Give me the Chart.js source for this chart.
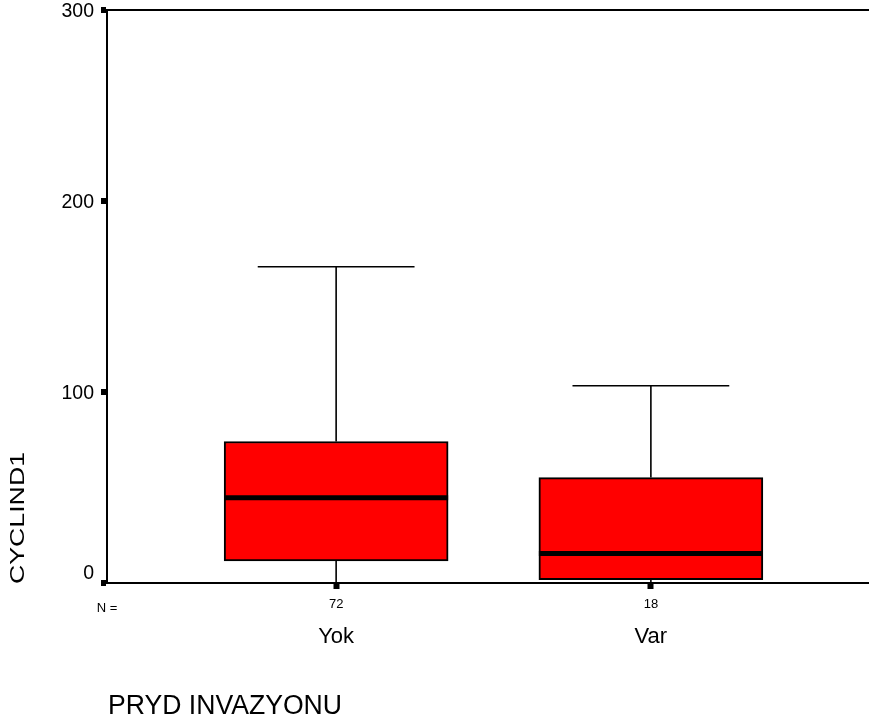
<!DOCTYPE html>
<html>
<head>
<meta charset="utf-8">
<script src="https://cdn.jsdelivr.net/npm/chart.js@4/dist/chart.umd.min.js"></script>
<style>
  html, body { margin: 0; padding: 0; background: #fff; }
  #wrap { width: 869px; height: 724px; position: relative; }
</style>
</head>
<body>
<div id="wrap"><canvas id="c"></canvas></div>
<script>
// Groups and group sizes
const categories = ['Yok', 'Var'];
const counts = [72, 18];

// Box-plot summary per group
const whiskerLow  = [0, 0];
const quartile1   = [11.5, 1.7];
const medians     = [44.6, 15.5];
const quartile3   = [74.1, 55.2];
const whiskerHigh = [165.6, 103.3];

// Value axis ticks
const yTicks = [0, 100, 200, 300];

const yTitle = 'CYCLIND1';
const xTitle = 'PRYD INVAZYONU';
const nLabel = 'N =';

const FONT = "'Liberation Sans', Arial, Helvetica, sans-serif";

// Whiskers behind the boxes, medians on top, plus the text around the axes
const boxPlotPlugin = {
  id: 'boxWhiskers',
  beforeDatasetsDraw(chart) {
    const xs = chart.scales.x, ys = chart.scales.y;
    const bars = chart.getDatasetMeta(0).data;
    const ctx = chart.ctx;
    ctx.save();
    ctx.strokeStyle = '#000';
    ctx.lineWidth = 1.6;
    categories.forEach((c, i) => {
      const x = xs.getPixelForValue(i + 1);
      const half = bars[i].width * 0.35;
      const yMax = ys.getPixelForValue(whiskerHigh[i]);
      const yMin = ys.getPixelForValue(whiskerLow[i]);
      ctx.beginPath();
      ctx.moveTo(x, ys.getPixelForValue(quartile3[i]));
      ctx.lineTo(x, yMax);
      ctx.moveTo(x - half, yMax);
      ctx.lineTo(x + half, yMax);
      ctx.moveTo(x, ys.getPixelForValue(quartile1[i]));
      ctx.lineTo(x, yMin);
      ctx.moveTo(x - half, yMin);
      ctx.lineTo(x + half, yMin);
      ctx.stroke();
    });
    ctx.restore();
  },
  afterDatasetsDraw(chart) {
    const ys = chart.scales.y;
    const bars = chart.getDatasetMeta(0).data;
    const ctx = chart.ctx;
    ctx.save();
    ctx.strokeStyle = '#000';
    ctx.lineWidth = 5;
    categories.forEach((c, i) => {
      const b = bars[i];
      const y = ys.getPixelForValue(medians[i]);
      ctx.beginPath();
      ctx.moveTo(b.x - b.width / 2, y);
      ctx.lineTo(b.x + b.width / 2, y);
      ctx.stroke();
    });
    ctx.restore();
  },
  afterDraw(chart) {
    const xs = chart.scales.x, ys = chart.scales.y;
    const ctx = chart.ctx;
    const area = chart.chartArea;
    ctx.save();
    ctx.fillStyle = '#000';

    // value labels; the zero label sits a little above its tick
    ctx.font = '19.5px ' + FONT;
    ctx.textAlign = 'right';
    ctx.textBaseline = 'middle';
    yTicks.forEach(v => {
      const shift = v === yTicks[0] ? -9.5 : 2;
      ctx.fillText(String(v), area.left - 13, ys.getPixelForValue(v) + shift);
    });

    // group sizes row
    ctx.font = '13px ' + FONT;
    ctx.textAlign = 'center';
    ctx.textBaseline = 'alphabetic';
    ctx.fillText(nLabel, area.left, 612);
    categories.forEach((c, i) => {
      ctx.fillText(String(counts[i]), xs.getPixelForValue(i + 1), 608);
    });

    // group names
    ctx.font = '22px ' + FONT;
    categories.forEach((c, i) => {
      ctx.fillText(c, xs.getPixelForValue(i + 1), 643);
    });

    // horizontal axis title
    ctx.font = '27px ' + FONT;
    ctx.textAlign = 'left';
    ctx.fillText(xTitle, area.left + 1, 714, 234);

    // vertical axis title, widened along its baseline
    ctx.font = '20px ' + FONT;
    const w = ctx.measureText(yTitle).width;
    ctx.translate(24, area.bottom + 1);
    ctx.rotate(-Math.PI / 2);
    ctx.scale(132 / w, 1);
    ctx.textAlign = 'left';
    ctx.fillText(yTitle, 0, 0);
    ctx.restore();
  }
};

new Chart(document.getElementById('c'), {
  type: 'bar',
  data: {
    datasets: [{
      data: categories.map((c, i) => ({ x: i + 1, y: [quartile1[i], quartile3[i]] })),
      backgroundColor: '#ff0000',
      borderColor: '#000',
      borderWidth: 2,
      borderSkipped: false,
      barThickness: 224
    }]
  },
  options: {
    responsive: true,
    maintainAspectRatio: false,
    animation: false,
    layout: { padding: { top: 10, left: 0, right: 0, bottom: 0 } },
    plugins: { legend: { display: false }, tooltip: { enabled: false } },
    scales: {
      x: {
        type: 'linear',
        offset: false,
        min: 0.272,
        max: 2.693,
        afterBuildTicks: s => { s.ticks = categories.map((c, i) => ({ value: i + 1 })); },
        afterFit: s => { s.height = 141; s.paddingLeft = 0; s.paddingRight = 0; },
        ticks: { display: false },
        grid: {
          offset: false,
          drawOnChartArea: false,
          drawTicks: true,
          tickLength: 6,
          tickWidth: 6,
          tickColor: '#000'
        },
        border: { display: true, color: '#000', width: 2 }
      },
      y: {
        min: 0,
        max: 300,
        afterBuildTicks: s => { s.ticks = yTicks.map(v => ({ value: v })); },
        afterFit: s => { s.width = 107; s.paddingTop = 0; s.paddingBottom = 0; },
        ticks: { display: false },
        grid: {
          drawOnChartArea: true,
          color: c => (c.tick && c.tick.value === 300 ? '#000' : 'rgba(0,0,0,0)'),
          lineWidth: c => (c.tick && c.tick.value === 300 ? 2 : 0),
          drawTicks: true,
          tickLength: 6,
          tickWidth: 6,
          tickColor: '#000'
        },
        border: { display: true, color: '#000', width: 2 }
      }
    }
  },
  plugins: [boxPlotPlugin]
});
</script>
</body>
</html>
